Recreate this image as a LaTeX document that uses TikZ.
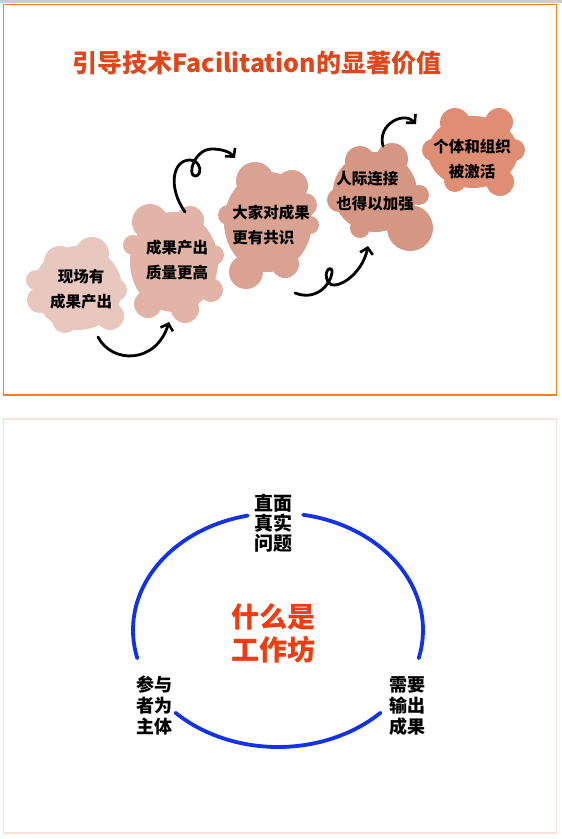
\documentclass[tikz,border=0pt]{standalone}
\usepackage{fontspec}
\newfontfamily\cjk{Noto Sans CJK SC}
\usetikzlibrary{arrows.meta}
\definecolor{frameorange}{HTML}{F07F2A}
\definecolor{framepeach}{HTML}{F6E2D8}
\definecolor{titlered}{HTML}{E0461A}
\definecolor{centerred}{HTML}{F23B0E}
\definecolor{ringblue}{HTML}{1232E6}
\definecolor{bA}{HTML}{E8C8BE}
\definecolor{bB}{HTML}{E2B4A7}
\definecolor{bC}{HTML}{D9A292}
\definecolor{bD}{HTML}{D69684}
\definecolor{bE}{HTML}{DF8E73}
\begin{document}
\begin{tikzpicture}[x=1pt,y=-1pt,
  blobtext/.style={font=\cjk\bfseries\fontsize{15.5}{25}\selectfont, text=black, inner sep=0pt},
  ringlabel/.style={font=\cjk\bfseries\fontsize{18}{21}\selectfont, text=black, inner sep=0pt},
  curlarrow/.style={line width=2.8pt, black, line cap=round, line join=round,
    -{Straight Barb[length=6pt,width=13pt,line width=2.6pt]}},
  ring/.style={line width=3.8pt, ringblue, line cap=round}]
\useasboundingbox (0,0) rectangle (562,839);
\fill[white] (0,0) rectangle (562,839);
\fill[black!20] (0,0) rectangle (562,3);
% frames
\draw[frameorange, line width=1.5pt] (3.5,4.5) rectangle (556.5,395);
\draw[framepeach, line width=1.5pt] (3.5,419) rectangle (556.5,833);
% title
\node[font=\cjk\bfseries\fontsize{25}{28}\selectfont, text=titlered, inner sep=0pt] (title) at (257,63) {引导技术Facilitation的显著价值};
% blob 1
\begin{scope}[bA]
\fill (78,288) ellipse[x radius=44, y radius=42];
\fill (92,254) circle[radius=17];
\fill (60,262) circle[radius=16];
\fill (40,300) circle[radius=13];
\fill (65,320) circle[radius=13];
\fill (110,316) circle[radius=14];
\fill (116,290) circle[radius=11];
\fill (36,280) circle[radius=10];
\end{scope}
% blob 2
\begin{scope}[bB]
\fill (174,262) ellipse[x radius=44, y radius=50];
\fill (150,222) circle[radius=18];
\fill (190,220) circle[radius=14];
\fill (214,255) circle[radius=10];
\fill (211,290) circle[radius=12];
\fill (185,309) circle[radius=14];
\fill (148,304) circle[radius=14];
\fill (133,245) circle[radius=10];
\end{scope}
% blob 3
\begin{scope}[bC]
\fill (268,222) ellipse[x radius=44, y radius=50];
\fill (255,181) circle[radius=19];
\fill (292,186) circle[radius=16];
\fill (310,225) circle[radius=9];
\fill (228,215) circle[radius=10];
\fill (246,272) circle[radius=17];
\fill (285,264) circle[radius=14];
\fill (305,205) circle[radius=12];
\end{scope}
% blob 4
\begin{scope}[bD]
\fill (375,192) ellipse[x radius=42, y radius=40];
\fill (360,161) circle[radius=15];
\fill (392,159) circle[radius=16];
\fill (339,200) circle[radius=12];
\fill (410,228) circle[radius=23];
\fill (419,195) circle[radius=10];
\fill (360,228) circle[radius=10];
\end{scope}
% blob 5
\begin{scope}[bE]
\fill (473,152) ellipse[x radius=45, y radius=36];
\fill (455,123) circle[radius=15];
\fill (499,122) circle[radius=14];
\fill (514,150) circle[radius=11];
\fill (433,150) circle[radius=11];
\fill (500,182) circle[radius=14];
\fill (455,181) circle[radius=11];
\end{scope}
% blob texts
\node[blobtext, align=center] (s1) at (81,289) {现场有\\成果产出};
\node[blobtext, align=left] (s2) at (177,260) {成果产出\\质量更高};
\node[blobtext, align=left] (s3) at (271,225) {大家对成果\\更有共识};
\node[blobtext, align=left] (s4) at (375,191) {人际连接\\也得以加强};
\node[blobtext, align=center] (s5) at (472,159) {个体和组织\\被激活};
% curly arrows
\coordinate (a1s) at (98,337);
\coordinate (a1e) at (169,322);
\draw[curlarrow] (a1s) .. controls (112,364) and (156,364) .. (a1e);
\coordinate (a2s) at (185,212);
\coordinate (a2e) at (235,158);
\draw[curlarrow] (a2s) .. controls (168,188) and (172,160) .. (190,160)
  .. controls (201,160) and (203,176) .. (195,176)
  .. controls (187,176) and (194,149) .. (212,149)
  .. controls (222,149) and (230,152) .. (a2e);
\coordinate (a3s) at (295,293);
\coordinate (a3e) at (368,246);
\draw[curlarrow] (a3s) .. controls (315,301) and (330,286) .. (332,273)
  .. controls (333,264) and (322,270) .. (328,282)
  .. controls (334,292) and (362,276) .. (a3e);
\coordinate (a4s) at (383,146);
\coordinate (a4e) at (416,124);
\draw[curlarrow] (a4s) .. controls (377,124) and (404,111) .. (a4e);
% ring
\draw[ring] plot[domain=80:-14, samples=60] ({278+145*cos(\x)},{630-117*sin(\x)});
\draw[ring] plot[domain=102:194, samples=60] ({278+145*cos(\x)},{630-117*sin(\x)});
\draw[ring] plot[domain=225:315, samples=60] ({278+145*cos(\x)},{630-117*sin(\x)});
% ring labels
\node[ringlabel, align=center, font=\cjk\bfseries\fontsize{19}{20}\selectfont] (top) at (273,523) {直面\\真实\\问题};
\node[ringlabel, align=left] (left) at (154,705) {参与\\者为\\主体};
\node[ringlabel, align=left] (right) at (407,706) {需要\\输出\\成果};
\node[font=\cjk\bfseries\fontsize{28}{33}\selectfont, text=centerred, align=center, inner sep=0pt] (center) at (273,633) {什么是\\工作坊};
\end{tikzpicture}
\end{document}
